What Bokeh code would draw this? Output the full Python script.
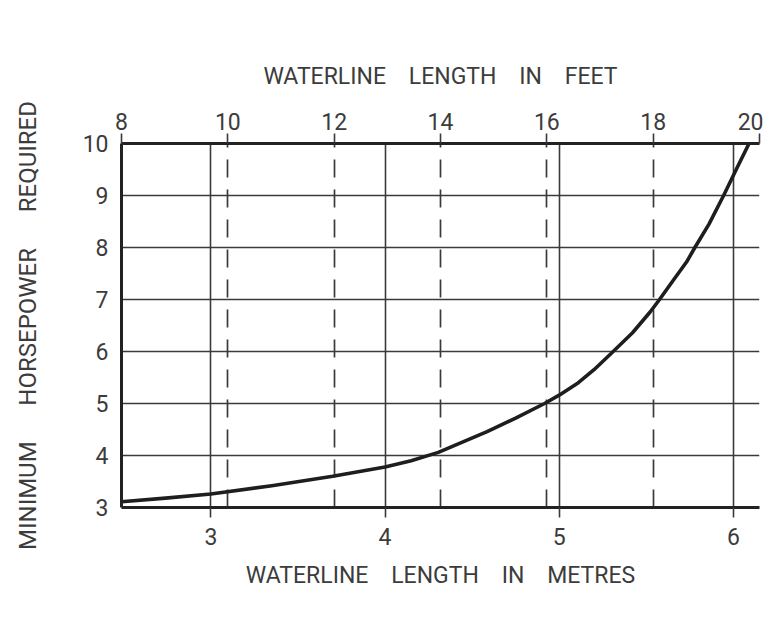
from bokeh.plotting import figure
from bokeh.models import Range1d, LinearAxis, FixedTicker, Grid
from bokeh.embed import file_html
from bokeh.resources import INLINE

# ---- data ----
length_m = [2.487, 2.74, 3.0, 3.35, 3.70, 4.0, 4.15, 4.306, 4.586, 4.75, 4.916,
            5.0, 5.11, 5.20, 5.304, 5.421, 5.522, 5.576, 5.653, 5.731,
            5.779, 5.86, 5.944, 6.022, 6.09]
horsepower = [3.11, 3.18, 3.26, 3.42, 3.60, 3.78, 3.90, 4.06, 4.46, 4.72, 5.0,
              5.16, 5.40, 5.65, 5.98, 6.36, 6.76, 7.0, 7.36, 7.72,
              8.0, 8.45, 9.0, 9.54, 10.0]

metre_ticks = [3, 4, 5, 6]
feet_ticks = [8, 10, 12, 14, 16, 18, 20]
feet_dashed = [10, 12, 14, 16, 18, 20]
hp_ticks = [3, 4, 5, 6, 7, 8, 9, 10]

GAP = "\u00a0\u00a0\u00a0 "
YGAP = "\u00a0\u00a0\u00a0\u00a0\u00a0 "
title_top = GAP.join(["WATERLINE", "LENGTH", "IN", "FEET"])
title_bottom = GAP.join(["WATERLINE", "LENGTH", "IN", "METRES"])
title_left = YGAP.join(["MINIMUM", "HORSEPOWER", "REQUIRED"])

FONT = "Roboto"
TXT = "#3c3c3c"
LINE = "#3a3a3a"

p = figure(frame_width=638, frame_height=364,
           x_range=Range1d(2.487, 6.15), y_range=Range1d(3, 10),
           output_backend="svg", toolbar_location=None,
           min_border_left=121, min_border_top=143,
           min_border_right=4, min_border_bottom=112)
p.outline_line_color = None
p.background_fill_color = "white"
p.border_fill_color = "white"

p.extra_x_ranges = {"feet": Range1d(8, 20)}

# bottom axis (metres)
xa = p.xaxis[0]
xa.ticker = FixedTicker(ticks=metre_ticks)
xa.axis_label = title_bottom

# left axis (horsepower)
ya = p.yaxis[0]
ya.ticker = FixedTicker(ticks=hp_ticks)
ya.axis_label = title_left

# top axis (feet)
ta = LinearAxis(x_range_name="feet", ticker=FixedTicker(ticks=feet_ticks),
                axis_label=title_top)
p.add_layout(ta, "above")

for ax in (xa, ya, ta):
    ax.axis_line_width = 3
    ax.axis_line_color = "#222222"
    ax.major_tick_line_color = LINE
    ax.major_tick_line_width = 1.6
    ax.major_tick_in = 0
    ax.major_tick_out = 10
    ax.minor_tick_line_color = None
    ax.major_label_text_font = FONT
    ax.major_label_text_font_size = "23px"
    ax.major_label_text_color = TXT
    ax.axis_label_text_font = FONT
    ax.axis_label_text_font_size = "23px"
    ax.axis_label_text_font_style = "normal"
    ax.axis_label_text_color = TXT

xa.major_label_standoff = 10
xa.axis_label_standoff = 14
ta.major_label_standoff = 4
ta.axis_label_standoff = 20
ya.major_tick_out = 0
ya.major_label_standoff = 13
ya.axis_label_standoff = 38
ya.axis_label_text_font_size = "24px"

# solid grid lines
for g in (p.xgrid[0], p.ygrid[0]):
    g.grid_line_color = LINE
    g.grid_line_width = 1.6
    g.grid_line_alpha = 1.0

# dashed grid in feet
fg = Grid(dimension=0, ticker=FixedTicker(ticks=feet_dashed), x_range_name="feet",
          grid_line_color=LINE, grid_line_width=1.7, grid_line_dash="18 12")
p.add_layout(fg)

p.line(length_m, horsepower, line_width=3.6, line_color="#1e1e1e", line_join="round")

open("out.html", "w").write(file_html(p, INLINE))
